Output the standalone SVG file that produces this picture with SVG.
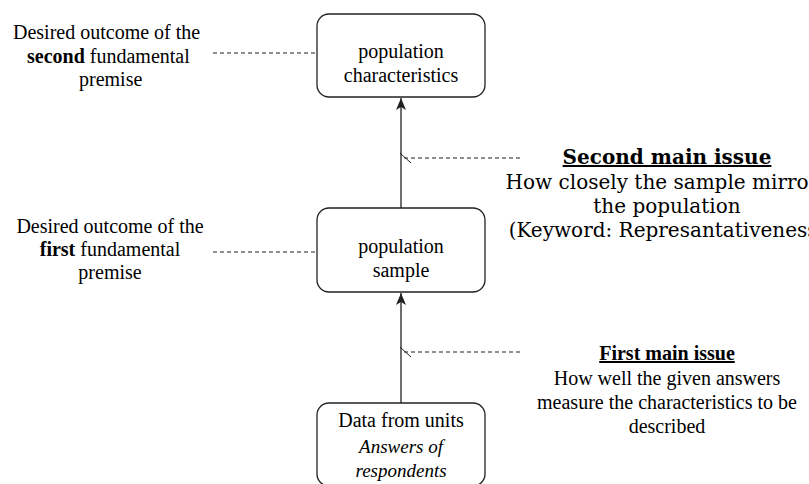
<svg xmlns="http://www.w3.org/2000/svg" width="809" height="484" viewBox="0 0 809 484">
<defs>
<marker id="arr" markerWidth="12" markerHeight="10" refX="12" refY="5" orient="auto" markerUnits="userSpaceOnUse" viewBox="0 0 12 10">
<path d="M0,0 L12,5 L0,10 L3,5 Z" fill="#222"/>
</marker>
</defs>
<rect width="809" height="484" fill="#fff"/>
<g id="connectors" stroke="#222" fill="none">
<line x1="401" y1="208" x2="401" y2="98" stroke-width="1.3" marker-end="url(#arr)"/>
<line x1="401" y1="403" x2="401" y2="293" stroke-width="1.3" marker-end="url(#arr)"/>
<line x1="213" y1="53" x2="317" y2="53" stroke-width="1.1" stroke-dasharray="4 3"/>
<line x1="213" y1="252" x2="317" y2="252" stroke-width="1.1" stroke-dasharray="4 3"/>
<line x1="404" y1="158" x2="520" y2="158" stroke-width="1.1" stroke-dasharray="4 3"/>
<line x1="400" y1="153" x2="411" y2="163" stroke-width="1"/>
<line x1="404" y1="352" x2="520" y2="352" stroke-width="1.1" stroke-dasharray="4 3"/>
<line x1="400" y1="347" x2="411" y2="357" stroke-width="1"/>
</g>
<g id="node-characteristics">
<rect x="317" y="14" width="168" height="83" rx="12" fill="#fff" stroke="#222" stroke-width="1.3"/>
<text x="401" y="58" font-family="Times New Roman" font-size="20" text-anchor="middle">population</text>
<text x="401" y="82" font-family="Times New Roman" font-size="20" text-anchor="middle">characteristics</text>
</g>
<g id="node-sample">
<rect x="317" y="208" width="168" height="84" rx="12" fill="#fff" stroke="#222" stroke-width="1.3"/>
<text x="401" y="253" font-family="serif" font-size="20" text-anchor="middle">population</text>
<text x="401" y="277" font-family="serif" font-size="20" text-anchor="middle">sample</text>
</g>
<g id="node-data">
<rect x="317" y="403" width="168" height="83" rx="12" fill="#fff" stroke="#222" stroke-width="1.3"/>
<text x="401" y="427" font-family="Liberation Serif" font-size="20" text-anchor="middle">Data from units</text>
<text x="401" y="453" font-family="Liberation Serif" font-size="19" font-style="italic" text-anchor="middle">Answers of</text>
<text x="401" y="477" font-family="Liberation Serif" font-size="19" font-style="italic" text-anchor="middle">respondents</text>
</g>
<g id="label-second-premise">
<text x="13" y="39" font-family="Liberation Serif" font-size="20">Desired outcome of the</text>
<text x="27" y="63" font-family="Liberation Serif" font-size="20"><tspan font-weight="bold">second</tspan> fundamental</text>
<text x="79" y="86" font-family="Liberation Serif" font-size="20">premise</text>
</g>
<g id="label-first-premise">
<text x="110" y="233" font-family="Liberation Serif" font-size="20" text-anchor="middle">Desired outcome of the</text>
<text x="110" y="256" font-family="Liberation Serif" font-size="20" text-anchor="middle"><tspan font-weight="bold">first</tspan> fundamental</text>
<text x="110" y="279" font-family="Liberation Serif" font-size="20" text-anchor="middle">premise</text>
</g>
<g id="label-second-issue">
<text x="667" y="164" font-family="DejaVu Serif" font-size="20" font-weight="bold" text-decoration="underline" text-anchor="middle">Second main issue</text>
<text x="667" y="189" font-family="DejaVu Serif" font-size="20" text-anchor="middle">How closely the sample mirrors</text>
<text x="667" y="213" font-family="DejaVu Serif" font-size="20" text-anchor="middle">the population</text>
<text x="667" y="237" font-family="DejaVu Serif" font-size="20" text-anchor="middle">(Keyword: Represantativeness)</text>
</g>
<g id="label-first-issue">
<text x="667" y="360" style="font-family:'Liberation Serif',serif;font-size:20px;font-weight:bold;text-decoration:underline;text-anchor:middle">First main issue</text>
<text x="667" y="385" style="font-family:'Liberation Serif',serif;font-size:20px;text-anchor:middle">How well the given answers</text>
<text x="667" y="409" style="font-family:'Liberation Serif',serif;font-size:20px;text-anchor:middle">measure the characteristics to be</text>
<text x="667" y="433" style="font-family:'Liberation Serif',serif;font-size:20px;text-anchor:middle">described</text>
</g>
</svg>
